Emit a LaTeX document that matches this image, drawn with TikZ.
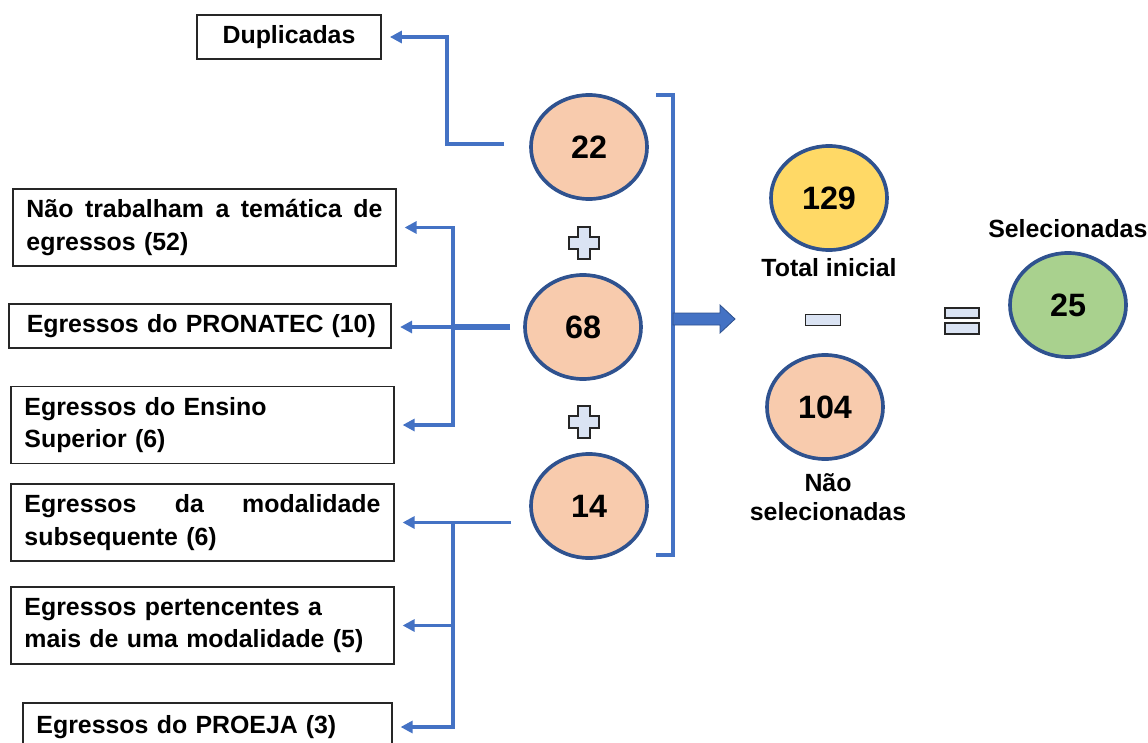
\documentclass[tikz,border=0pt]{standalone}
\usepackage{fontspec}
\setmainfont{Liberation Sans}
\usepackage{tikz}
\usetikzlibrary{positioning, arrows.meta, shapes.geometric, calc}
\definecolor{LinhaAzul}{RGB}{68,114,196}
\definecolor{BordaAzul}{RGB}{47,82,143}
\definecolor{Pessego}{RGB}{248,203,173}
\definecolor{Amarelo}{RGB}{255,217,102}
\definecolor{Verde}{RGB}{169,209,142}
\definecolor{SinalAzul}{RGB}{218,227,243}
\hyphenpenalty=10000
\tikzset{
  caixa/.style={draw=black!85, line width=1.2pt, inner xsep=0.33cm, inner ysep=0pt,
    font=\bfseries\fontsize{17.7}{23}\selectfont},
  larga/.style={caixa, text width=8.9cm, align=left, minimum height=1.925cm},
  bola/.style={ellipse, draw=BordaAzul, line width=2.6pt, minimum width=2.9cm, minimum height=2.6cm,
    inner sep=0pt, font=\bfseries\fontsize{23}{27}\selectfont},
  rotulo/.style={font=\bfseries\fontsize{17.7}{20.6}\selectfont, inner sep=0pt, align=center},
  seta/.style={-{Triangle[length=0.3cm, width=0.3cm]}, line width=2.6pt, LinhaAzul, shorten >=0.2cm},
  fio/.style={line width=2.6pt, LinhaAzul},
  sinal/.style={draw=black!85, line width=0.9pt, fill=SinalAzul},
  mais/.pic={\draw[sinal] (-6,-16) -- (6,-16) -- (6,-6) -- (15,-6) -- (15,6) -- (6,6) -- (6,16)
    -- (-6,16) -- (-6,6) -- (-15,6) -- (-15,-6) -- (-6,-6) -- cycle;},
}

\begin{document}
\begin{tikzpicture}[x=0.025cm, y=-0.025cm]
  \useasboundingbox (0,0) rectangle (1148,742);
  \clip (0,0) rectangle (1148,742);
  \node[caixa, minimum width=4.6cm, minimum height=1.1cm] (dup) at (289,37) {Duplicadas};
  \node[larga] (nao) at (204.5,227.5) {Não\hfill trabalham\hfill a\hfill temática\hfill de\\egressos (52)};
  \node[larga, minimum height=1.1cm] (pron) at (200,326) {\mbox{\hspace*{0.12cm}Egressos do PRONATEC\hspace{0.2cm}(10)}};
  \node[larga] (ens) at (202.5,425) {Egressos do Ensino\\Superior (6)};
  \node[larga] (mod) at (202.5,522.5) {Egressos\hfill da\hfill modalidade\\subsequente (6)};
  \node[larga] (pert) at (202.5,625.5) {Egressos pertencentes a\\mais de uma modalidade (5)};
  \node[larga, text width=8.55cm, minimum height=1.2cm] (proe) at (207.5,727) {\mbox{Egressos do PROEJA\hspace{0.2cm}(3)}};

  \foreach \nome/\x/\y/\cor/\num in {c22/589/147/Pessego/22, c68/583/327/Pessego/68, c14/589/506/Pessego/14,
      c129/829/198/Amarelo/129, c104/825/407/Pessego/104, c25/1068/305/Verde/25} {
    \node[bola, fill=\cor] (\nome) at (\x,\y) {\num};
  }
  \pic at (584,243) {mais};
  \pic at (584,422) {mais};

  \draw[seta] ($(c22.west)+(-25,-3)$) -- ++(-57,0) |- (dup.east);

  \coordinate (b68) at ($(c68.west)+(-70,0)$);
  \draw[fio, line width=3.8pt] ($(c68.west)+(-13,0)$) -- (b68);
  \draw[seta] (b68) |- (nao.east);
  \draw[seta] (b68) -- (b68 -| pron.east);
  \draw[seta] (b68) |- (ens.east);

  \coordinate (b14) at (b68 |- mod.east);
  \draw[seta] ($(c14.west |- mod.east)+(-18,0)$) -- (mod.east);
  \draw[seta] (b14) |- (pert.east);
  \draw[seta] (b14) |- (proe.east);

  \draw[fio, line width=2.8pt] (656,95) -- (673,95) -- (673,555) -- (656,555);
  \draw[BordaAzul, fill=LinhaAzul, line width=0.6pt] (673,313) -- (720,313) -- (720,305) -- (735,319)
    -- (720,333) -- (720,325) -- (673,325) -- cycle;

  \node[rotulo] (total) at (829,268) {Total inicial};
  \node[rotulo] (naosel) at (828,497) {Não\\selecionadas};
  \node[rotulo, anchor=west] (sel) at (988,229) {Selecionadas};
  \draw[sinal] (805.5,314.5) rectangle ++(35,11);
  \draw[sinal] (945,308) rectangle ++(34,10);
  \draw[sinal] (945,323) rectangle ++(34,11);
\end{tikzpicture}
\end{document}
